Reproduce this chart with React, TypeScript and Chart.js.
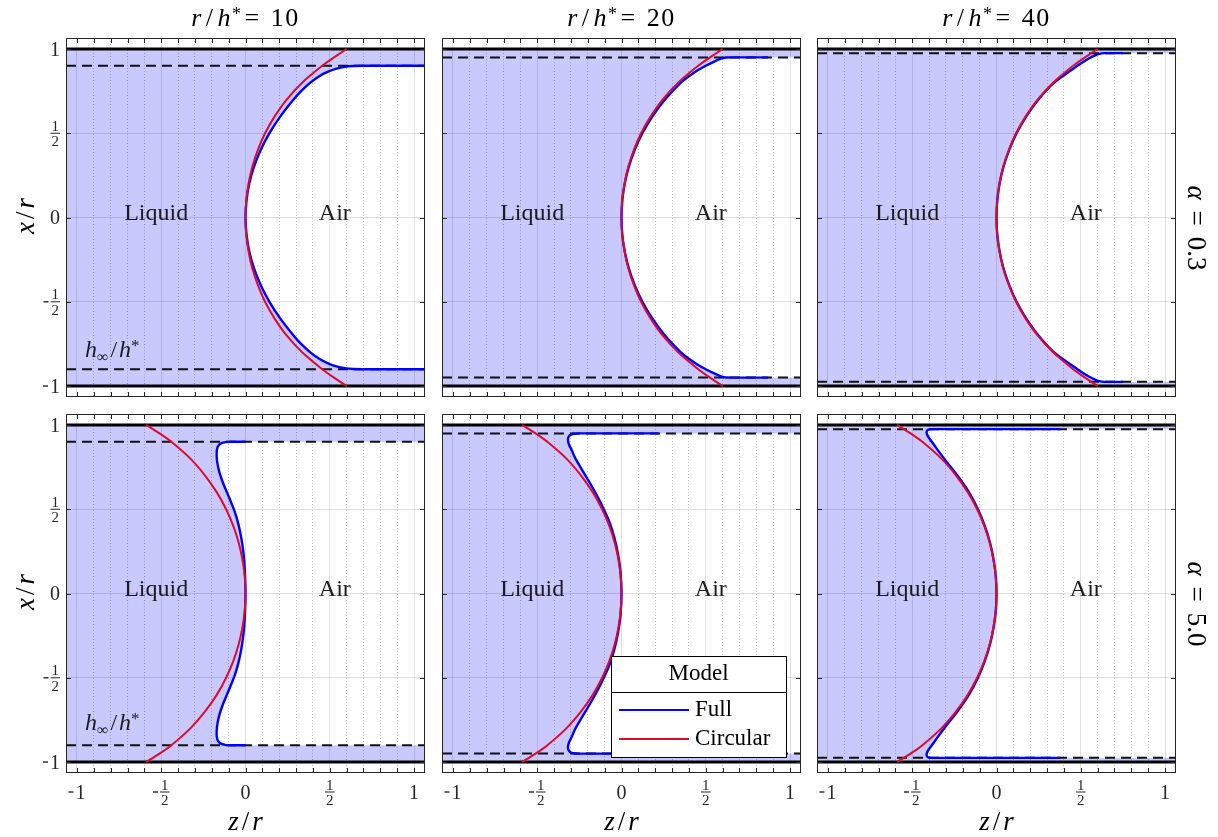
import React, { useEffect, useRef } from 'react';
import { Chart, registerables } from 'chart.js';

Chart.register(...registerables);

type Pt = [number, number];

// ---------------- data ----------------
const R_OVER_H = [10, 20, 40];
const ALPHA = ['0.3', '5.0'];
const AXIS_LIM = 1.065;
const Z_GRID = [-1, -0.9, -0.8, -0.7, -0.6, -0.5, -0.4, -0.3, -0.2, -0.1, 0, 0.1, 0.2, 0.3, 0.4, 0.5, 0.6, 0.7, 0.8, 0.9, 1];
const MAJOR_TICKS = [-1, -0.5, 0, 0.5, 1];
const MAJOR_LABELS = ['-1', '-1/2', '0', '1/2', '1'];
const WALL_POS = [1, -1];
const H_INF = [0.9, 0.95, 0.975];
const REGION_LABELS = ['Liquid', 'Air'];
const REGION_Z = [-0.53, 0.53];
const REGION_X = -0.015;
const H_LABEL_Z = -0.952;
const H_LABEL_X = [-0.83, -0.81];
const LEGEND_TITLE = 'Model';

// Circular model (alpha = 0.3)
const CIRC_A03: Pt[] = [
  [0.6, 1], [0.525, 0.95], [0.455, 0.9], [0.336, 0.8], [0.244, 0.7], [0.173, 0.6], [0.116, 0.5],
  [0.073, 0.4], [0.04, 0.3], [0.018, 0.2], [0.0044, 0.1], [0, 0], [0.0044, -0.1], [0.018, -0.2],
  [0.04, -0.3], [0.073, -0.4], [0.116, -0.5], [0.173, -0.6], [0.244, -0.7], [0.336, -0.8],
  [0.455, -0.9], [0.525, -0.95], [0.6, -1],
];
// Circular model (alpha = 5.0)
const CIRC_A50: Pt[] = [
  [-0.59, 1], [-0.51, 0.95], [-0.44, 0.9], [-0.327, 0.8], [-0.24, 0.7], [-0.17, 0.6], [-0.115, 0.5],
  [-0.072, 0.4], [-0.04, 0.3], [-0.018, 0.2], [-0.0045, 0.1], [0, 0], [-0.0045, -0.1], [-0.018, -0.2],
  [-0.04, -0.3], [-0.072, -0.4], [-0.115, -0.5], [-0.17, -0.6], [-0.24, -0.7], [-0.327, -0.8],
  [-0.44, -0.9], [-0.51, -0.95], [-0.59, -1],
];

// Full model, alpha = 0.3
const FULL_A03_R10: Pt[] = [
  [1.065, 0.9], [0.69, 0.9], [0.64, 0.899], [0.59, 0.894], [0.54, 0.883], [0.49, 0.865], [0.44, 0.84],
  [0.385, 0.8], [0.33, 0.75], [0.285, 0.7], [0.207, 0.6], [0.142, 0.5], [0.09, 0.4], [0.05, 0.3],
  [0.022, 0.2], [0.006, 0.1], [0, 0], [0.006, -0.1], [0.022, -0.2], [0.05, -0.3], [0.09, -0.4],
  [0.142, -0.5], [0.207, -0.6], [0.285, -0.7], [0.33, -0.75], [0.385, -0.8], [0.44, -0.84],
  [0.49, -0.865], [0.54, -0.883], [0.59, -0.894], [0.64, -0.899], [0.69, -0.9], [1.065, -0.9],
];
const FULL_A03_R20: Pt[] = [
  [0.87, 0.95], [0.66, 0.95], [0.62, 0.949], [0.59, 0.942], [0.55, 0.925], [0.5, 0.9], [0.45, 0.872],
  [0.4, 0.838], [0.352, 0.8], [0.258, 0.7], [0.184, 0.6], [0.124, 0.5], [0.078, 0.4], [0.043, 0.3],
  [0.019, 0.2], [0.0045, 0.1], [0, 0], [0.0045, -0.1], [0.019, -0.2], [0.043, -0.3], [0.078, -0.4],
  [0.124, -0.5], [0.184, -0.6], [0.258, -0.7], [0.352, -0.8], [0.4, -0.838], [0.45, -0.872],
  [0.5, -0.9], [0.55, -0.925], [0.59, -0.942], [0.62, -0.949], [0.66, -0.95], [0.87, -0.95],
];
const FULL_A03_R40: Pt[] = [
  [0.75, 0.975], [0.64, 0.975], [0.61, 0.971], [0.585, 0.962], [0.545, 0.942], [0.48, 0.9],
  [0.342, 0.8], [0.249, 0.7], [0.177, 0.6], [0.119, 0.5], [0.075, 0.4], [0.041, 0.3], [0.018, 0.2],
  [0.0044, 0.1], [0, 0], [0.0044, -0.1], [0.018, -0.2], [0.041, -0.3], [0.075, -0.4], [0.119, -0.5],
  [0.177, -0.6], [0.249, -0.7], [0.342, -0.8], [0.48, -0.9], [0.545, -0.942], [0.585, -0.962],
  [0.61, -0.971], [0.64, -0.975], [0.75, -0.975],
];
// Full model, alpha = 5.0
const FULL_A50_R10: Pt[] = [
  [0, 0.9], [-0.09, 0.9], [-0.12, 0.898], [-0.145, 0.891], [-0.162, 0.876], [-0.17, 0.852],
  [-0.171, 0.816], [-0.167, 0.775], [-0.155, 0.72], [-0.135, 0.66], [-0.11, 0.6], [-0.085, 0.54],
  [-0.062, 0.48], [-0.042, 0.41], [-0.025, 0.33], [-0.012, 0.24], [-0.004, 0.14], [0, 0],
  [-0.004, -0.14], [-0.012, -0.24], [-0.025, -0.33], [-0.042, -0.41], [-0.062, -0.48], [-0.085, -0.54],
  [-0.11, -0.6], [-0.135, -0.66], [-0.155, -0.72], [-0.167, -0.775], [-0.171, -0.816], [-0.17, -0.852],
  [-0.162, -0.876], [-0.145, -0.891], [-0.12, -0.898], [-0.09, -0.9], [0, -0.9],
];
const FULL_A50_R20: Pt[] = [
  [0.22, 0.95], [-0.25, 0.95], [-0.285, 0.948], [-0.305, 0.94], [-0.316, 0.925], [-0.317, 0.905],
  [-0.31, 0.88], [-0.295, 0.85], [-0.276, 0.806], [-0.236, 0.737], [-0.19, 0.66], [-0.145, 0.58],
  [-0.105, 0.5], [-0.07, 0.42], [-0.042, 0.33], [-0.02, 0.23], [-0.006, 0.13], [0, 0],
  [-0.006, -0.13], [-0.02, -0.23], [-0.042, -0.33], [-0.07, -0.42], [-0.105, -0.5], [-0.145, -0.58],
  [-0.19, -0.66], [-0.236, -0.737], [-0.276, -0.806], [-0.295, -0.85], [-0.31, -0.88], [-0.317, -0.905],
  [-0.316, -0.925], [-0.305, -0.94], [-0.285, -0.948], [-0.25, -0.95], [0.22, -0.95],
];
const FULL_A50_R40: Pt[] = [
  [0.38, 0.975], [-0.385, 0.975], [-0.405, 0.972], [-0.414, 0.962], [-0.414, 0.95], [-0.408, 0.935],
  [-0.395, 0.915], [-0.376, 0.89], [-0.345, 0.846], [-0.293, 0.777], [-0.232, 0.7], [-0.163, 0.6],
  [-0.11, 0.5], [-0.069, 0.4], [-0.038, 0.3], [-0.017, 0.2], [-0.004, 0.1], [0, 0],
  [-0.004, -0.1], [-0.017, -0.2], [-0.038, -0.3], [-0.069, -0.4], [-0.11, -0.5], [-0.163, -0.6],
  [-0.232, -0.7], [-0.293, -0.777], [-0.345, -0.846], [-0.376, -0.89], [-0.395, -0.915], [-0.408, -0.935],
  [-0.414, -0.95], [-0.414, -0.962], [-0.405, -0.972], [-0.385, -0.975], [0.38, -0.975],
];

const FULL_CURVES: Pt[][][] = [
  [FULL_A03_R10, FULL_A03_R20, FULL_A03_R40],
  [FULL_A50_R10, FULL_A50_R20, FULL_A50_R40],
];
const CIRC_CURVES: Pt[][] = [CIRC_A03, CIRC_A50];

// ---------------- styles / layout ----------------
const SERIF = '"Liberation Serif", "Times New Roman", serif';
const FILL_COLOR = 'rgba(0,0,250,0.21)';
const FULL_COLOR = '#0000ff';
const CIRC_COLOR = '#dc0a2d';
const MAJOR_GRID = 'rgba(38,38,38,0.15)';
const MINOR_GRID = 'rgba(38,38,38,0.28)';
const FRAME_COLOR = '#262626';
const TEXT_COLOR = '#1a1a1a';
const TICK_FONT = 20;
const FRAC_FONT = 15;
const TICK_LEN = 5;

const COL_LEFT = [66, 442, 817];
const ROW_TOP = [38, 414];
const PANEL = 359;
const PAD = { left: 64, right: 10, top: 10, bottom: 40 };
const CW = PANEL + PAD.left + PAD.right;
const CH = PANEL + PAD.top + PAD.bottom;
const LEGEND_BOX = { dx: 169, dy: 242, w: 175, h: 101, titleH: 36 };

const isMajor = (v: number) => Math.abs(v * 2 - Math.round(v * 2)) < 1e-6;
const toXY = (pts: Pt[]) => pts.map(([x, y]) => ({ x, y }));

function liquidPolygon(full: Pt[]) {
  const first = full[0];
  const last = full[full.length - 1];
  const pts: Pt[] = [
    [-AXIS_LIM, -1], [-AXIS_LIM, 1], [AXIS_LIM, 1], [AXIS_LIM, first[1]],
    ...full,
    [AXIS_LIM, last[1]], [AXIS_LIM, -1],
  ];
  return toXY(pts);
}

function drawTickLabel(ctx: CanvasRenderingContext2D, s: string, x: number, y: number, align: string) {
  const neg = s.startsWith('-');
  const body = neg ? s.slice(1) : s;
  const frac = body.includes('/');
  const signW = neg ? 7 : 0;
  let bodyW = 0;
  if (frac) {
    ctx.font = `${FRAC_FONT}px ${SERIF}`;
    const [n, d] = body.split('/');
    bodyW = Math.max(ctx.measureText(n).width, ctx.measureText(d).width) + 2;
  } else {
    ctx.font = `${TICK_FONT}px ${SERIF}`;
    bodyW = ctx.measureText(body).width;
  }
  const total = signW + bodyW;
  const left = align === 'right' ? x - total : x - total / 2;
  ctx.textBaseline = 'alphabetic';
  if (neg) ctx.fillRect(left, y - 0.7, 5, 1.4);
  if (frac) {
    const [n, d] = body.split('/');
    const cx = left + signW + bodyW / 2;
    ctx.textAlign = 'center';
    ctx.fillText(n, cx, y - 2.5);
    ctx.fillText(d, cx, y + 13);
    ctx.fillRect(cx - bodyW / 2, y - 0.5, bodyW, 1);
  } else {
    ctx.textAlign = 'left';
    ctx.fillText(body, left + signW, y + 0.33 * TICK_FONT);
  }
}

function drawHLabel(ctx: CanvasRenderingContext2D, x: number, y: number) {
  let cx = x;
  ctx.textAlign = 'left';
  ctx.textBaseline = 'alphabetic';
  ctx.font = `italic 24px ${SERIF}`;
  ctx.fillText('h', cx, y);
  cx += ctx.measureText('h').width;
  ctx.font = `16px ${SERIF}`;
  ctx.fillText('\u221E', cx, y + 5);
  cx += ctx.measureText('\u221E').width + 2;
  ctx.font = `24px ${SERIF}`;
  ctx.fillText('/', cx, y);
  cx += ctx.measureText('/').width + 2;
  ctx.font = `italic 24px ${SERIF}`;
  ctx.fillText('h', cx, y);
  cx += ctx.measureText('h').width;
  ctx.font = `17px ${SERIF}`;
  ctx.fillText('*', cx, y - 6);
}

const decoPlugin = {
  id: 'deco',
  afterDraw(chart: any, _args: any, opts: any) {
    const { ctx, chartArea: a, scales } = chart;
    const xs = scales.x;
    const ys = scales.y;
    ctx.save();
    // frame
    ctx.strokeStyle = FRAME_COLOR;
    ctx.lineWidth = 1;
    ctx.strokeRect(a.left + 0.5, a.top + 0.5, a.right - a.left - 1, a.bottom - a.top - 1);
    // inward ticks
    ctx.beginPath();
    for (const v of Z_GRID) {
      const px = Math.round(xs.getPixelForValue(v)) + 0.5;
      ctx.moveTo(px, a.top); ctx.lineTo(px, a.top + TICK_LEN);
      ctx.moveTo(px, a.bottom); ctx.lineTo(px, a.bottom - TICK_LEN);
    }
    for (const v of MAJOR_TICKS) {
      const py = Math.round(ys.getPixelForValue(v)) + 0.5;
      ctx.moveTo(a.left, py); ctx.lineTo(a.left + TICK_LEN, py);
      ctx.moveTo(a.right, py); ctx.lineTo(a.right - TICK_LEN, py);
    }
    ctx.stroke();
    // tick labels
    ctx.fillStyle = FRAME_COLOR;
    if (opts.showY) {
      MAJOR_TICKS.forEach((v, i) => drawTickLabel(ctx, MAJOR_LABELS[i], a.left - 6, ys.getPixelForValue(v), 'right'));
    }
    if (opts.showX) {
      MAJOR_TICKS.forEach((v, i) => drawTickLabel(ctx, MAJOR_LABELS[i], xs.getPixelForValue(v), a.bottom + 19, 'center'));
    }
    // region labels
    ctx.fillStyle = TEXT_COLOR;
    ctx.font = `24px ${SERIF}`;
    ctx.textAlign = 'center';
    ctx.textBaseline = 'alphabetic';
    REGION_LABELS.forEach((t, i) => ctx.fillText(t, xs.getPixelForValue(REGION_Z[i]), ys.getPixelForValue(REGION_X)));
    if (opts.hLabel !== null && opts.hLabel !== undefined) {
      drawHLabel(ctx, xs.getPixelForValue(H_LABEL_Z), ys.getPixelForValue(opts.hLabel));
    }
    // legend
    if (opts.legend) {
      const L = LEGEND_BOX;
      const bx = a.left + L.dx;
      const by = a.top + L.dy;
      ctx.fillStyle = '#ffffff';
      ctx.fillRect(bx, by, L.w, L.h);
      ctx.strokeStyle = '#000';
      ctx.lineWidth = 1;
      ctx.strokeRect(bx + 0.5, by + 0.5, L.w, L.h);
      ctx.beginPath();
      ctx.moveTo(bx, by + L.titleH + 0.5);
      ctx.lineTo(bx + L.w, by + L.titleH + 0.5);
      ctx.stroke();
      ctx.fillStyle = '#000';
      ctx.font = `23px ${SERIF}`;
      ctx.textAlign = 'center';
      ctx.fillText(LEGEND_TITLE, bx + L.w / 2, by + 24);
      const items = chart.data.datasets.filter((d: any) => d.label);
      items.forEach((d: any, i: number) => {
        const ly = by + 54 + 29 * i;
        ctx.strokeStyle = d.borderColor;
        ctx.lineWidth = 2.2;
        ctx.beginPath();
        ctx.moveTo(bx + 8, ly);
        ctx.lineTo(bx + 78, ly);
        ctx.stroke();
        ctx.fillStyle = '#000';
        ctx.textAlign = 'left';
        ctx.fillText(d.label, bx + 84, ly + 6);
      });
    }
    ctx.restore();
  },
};

function hLine(y: number) {
  return toXY([[-AXIS_LIM, y], [AXIS_LIM, y]]);
}

function Panel({ row, col }: { row: number; col: number }) {
  const ref = useRef<HTMLCanvasElement>(null);
  useEffect(() => {
    const full = FULL_CURVES[row][col];
    const circ = CIRC_CURVES[row];
    const hinf = H_INF[col];
    const base = { pointRadius: 0, pointHoverRadius: 0, fill: false, tension: 0 };
    const datasets: any[] = [
      { ...base, label: '', data: liquidPolygon(full), borderWidth: 0, borderColor: 'rgba(0,0,0,0)', backgroundColor: FILL_COLOR, fill: 'shape', order: 6 },
      ...WALL_POS.map((w) => ({ ...base, label: '', data: hLine(w), borderColor: '#000', borderWidth: 3, order: 5 })),
      ...[hinf, -hinf].map((h) => ({ ...base, label: '', data: hLine(h), borderColor: '#111', borderWidth: 2, borderDash: [10, 6], order: 4 })),
      { ...base, label: 'Full', data: toXY(full), borderColor: FULL_COLOR, borderWidth: 2.4, tension: 0.25, order: 2 },
      { ...base, label: 'Circular', data: toXY(circ), borderColor: CIRC_COLOR, borderWidth: 2, tension: 0.3, order: 1 },
    ];
    const chart = new Chart(ref.current as HTMLCanvasElement, {
      type: 'line',
      data: { datasets },
      options: {
        responsive: false,
        animation: false,
        devicePixelRatio: 1,
        events: [],
        layout: { padding: PAD },
        plugins: {
          legend: { display: false },
          tooltip: { enabled: false },
          deco: {
            showY: col === 0,
            showX: row === 1,
            hLabel: col === 0 ? H_LABEL_X[row] : null,
            legend: row === 1 && col === 1,
          },
        },
        scales: {
          x: {
            type: 'linear',
            min: -AXIS_LIM,
            max: AXIS_LIM,
            afterBuildTicks: (s: any) => { s.ticks = Z_GRID.map((v) => ({ value: v })); },
            ticks: { display: false },
            grid: {
              drawTicks: false,
              lineWidth: 1,
              color: (c: any) => (c.tick && isMajor(c.tick.value) ? MAJOR_GRID : MINOR_GRID),
            },
            border: { display: false, dash: (c: any) => (c.tick && !isMajor(c.tick.value) ? [1, 2] : []) },
          },
          y: {
            type: 'linear',
            min: -AXIS_LIM,
            max: AXIS_LIM,
            afterBuildTicks: (s: any) => { s.ticks = MAJOR_TICKS.map((v) => ({ value: v })); },
            ticks: { display: false },
            grid: { drawTicks: false, lineWidth: 1, color: MAJOR_GRID },
            border: { display: false },
          },
        },
      } as any,
      plugins: [decoPlugin as any],
    } as any);
    return () => chart.destroy();
  }, [row, col]);
  return (
    <canvas
      ref={ref}
      width={CW}
      height={CH}
      style={{ position: 'absolute', left: COL_LEFT[col] - PAD.left, top: ROW_TOP[row] - PAD.top, width: CW, height: CH }}
    />
  );
}

const labelBase: React.CSSProperties = {
  position: 'absolute',
  fontFamily: SERIF,
  color: '#000',
  textAlign: 'center',
  whiteSpace: 'nowrap',
};

export default function App() {
  return (
    <div style={{ position: 'fixed', left: 0, top: 0, width: 1218, height: 837, background: '#fff', overflow: 'hidden' }}>
      {[0, 1].map((r) => [0, 1, 2].map((c) => <Panel key={`${r}-${c}`} row={r} col={c} />))}
      {R_OVER_H.map((v, c) => (
        <div key={`t${c}`} style={{ ...labelBase, left: COL_LEFT[c] + PANEL / 2 - 110, top: 3, width: 220, height: 30, lineHeight: '30px', fontSize: 26, letterSpacing: 1.5 }}>
          <i>r</i><span style={{ margin: '0 3px' }}>/</span><i>h</i>
          <span style={{ fontSize: 18, position: 'relative', top: -6 }}>*</span>
          <span style={{ margin: '0 10px 0 2px' }}>=</span>{v}
        </div>
      ))}
      {ROW_TOP.map((t, r) => (
        <div key={`y${r}`} style={{ ...labelBase, left: 25 - 60, top: t + PANEL / 2 - 17, width: 120, height: 30, lineHeight: '30px', fontSize: 27, transform: 'rotate(-90deg)' }}>
          <i>x</i><span style={{ margin: '0 3px' }}>/</span><i>r</i>
        </div>
      ))}
      {COL_LEFT.map((l, c) => (
        <div key={`x${c}`} style={{ ...labelBase, left: l + PANEL / 2 - 60, top: 806, width: 120, height: 30, lineHeight: '30px', fontSize: 27 }}>
          <i>z</i><span style={{ margin: '0 3px' }}>/</span><i>r</i>
        </div>
      ))}
      {ALPHA.map((a, r) => (
        <div key={`a${r}`} style={{ ...labelBase, left: 1197 - 80, top: ROW_TOP[r] + PANEL / 2 + 10 - 15, width: 160, height: 30, lineHeight: '30px', fontSize: 27, transform: 'rotate(90deg)' }}>
          <i>α</i><span style={{ margin: '0 11px' }}>=</span>{a}
        </div>
      ))}
    </div>
  );
}
